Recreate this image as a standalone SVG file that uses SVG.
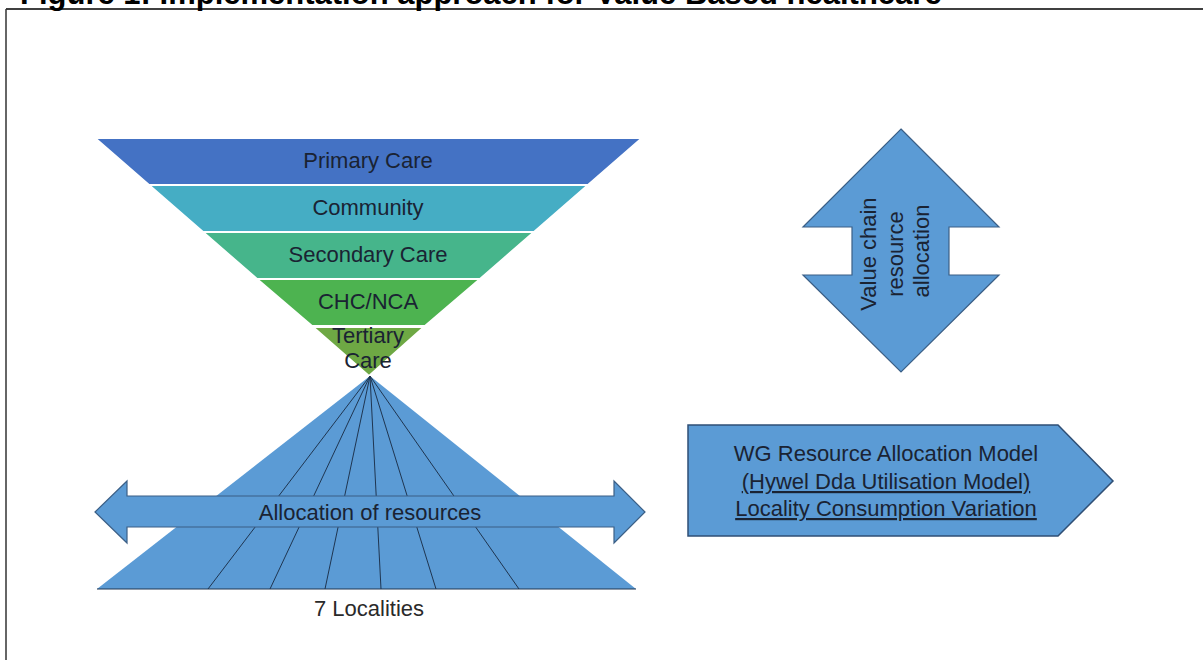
<svg xmlns="http://www.w3.org/2000/svg" width="1203" height="660" viewBox="0 0 1203 660">
  <style>
    text { font-family: "Liberation Sans", Arial, sans-serif; }
    .title { font-size: 31px; font-weight: bold; fill: #000; }
    .lbl { font-size: 22px; fill: #1a2333; text-anchor: middle; }
    .band { stroke: #ffffff; stroke-width: 2; }
    .blue { fill: #5b9bd5; }
    .outline { stroke: #3b5f86; stroke-width: 1.2; }
    .div { stroke: #1f3550; stroke-width: 1; fill: none; }
  </style>

  <rect width="1203" height="660" fill="#ffffff"/>

  <!-- heading and frame -->
  <text class="title" x="20" y="4">Figure 1: Implementation approach for Value Based healthcare</text>
  <line x1="6" y1="9" x2="1203" y2="9" stroke="#000" stroke-width="1.5"/>
  <line x1="6" y1="9" x2="6" y2="660" stroke="#333" stroke-width="1.5"/>

  <!-- care levels funnel -->
  <g id="funnel">
    <polygon class="band" fill="#4472c4" points="95,138 642,138 588,185 149,185"/>
    <polygon class="band" fill="#45adc4" points="149,185 588,185 534,232 203,232"/>
    <polygon class="band" fill="#46b58b" points="203,232 534,232 480,279 257,279"/>
    <polygon class="band" fill="#4db350" points="257,279 480,279 425,326 312,326"/>
    <polygon class="band" fill="#6ea844" points="313,327 424,327 369,376"/>
    <text class="lbl" x="368" y="168">Primary Care</text>
    <text class="lbl" x="368" y="215">Community</text>
    <text class="lbl" x="368" y="262">Secondary Care</text>
    <text class="lbl" x="368" y="309">CHC/NCA</text>
    <text class="lbl" x="368" y="343">Tertiary</text>
    <text class="lbl" x="368" y="368">Care</text>
  </g>

  <!-- localities pyramid -->
  <g id="localities">
    <polygon class="blue" points="370,376 636,589 97,589"/>
    <line class="div" x1="97" y1="589" x2="636" y2="589"/>
    <g class="div">
      <line x1="370" y1="376" x2="208" y2="589"/>
      <line x1="370" y1="376" x2="270" y2="589"/>
      <line x1="370" y1="376" x2="325" y2="589"/>
      <line x1="370" y1="376" x2="381" y2="589"/>
      <line x1="370" y1="376" x2="436" y2="589"/>
      <line x1="370" y1="376" x2="519" y2="589"/>
    </g>
    <text class="lbl" x="369" y="616" style="fill:#2a2a2a">7 Localities</text>
  </g>

  <!-- horizontal double arrow -->
  <g id="allocation">
    <polygon class="blue outline" points="95,512 127,481 127,496 614,496 614,481 645,512 614,543 614,527 127,527 127,543"/>
    <text class="lbl" x="370" y="520">Allocation of resources</text>
  </g>

  <!-- vertical double arrow -->
  <g id="value-chain">
    <polygon class="blue outline" points="901,129 999,227 949,227 949,275 999,275 901,372 803,275 852,275 852,227 803,227"/>
    <text class="lbl" transform="translate(895,251) rotate(-90)">
      <tspan x="0" y="-19">Value chain</tspan>
      <tspan x="0" y="7.5">resource</tspan>
      <tspan x="0" y="34">allocation</tspan>
    </text>
  </g>

  <!-- model pentagon -->
  <g id="wg-model">
    <polygon class="blue" stroke="#2f4f75" stroke-width="1.5" points="688,425 1058,425 1113,481 1058,536 688,536"/>
    <text class="lbl" x="886" y="461">WG Resource Allocation Model</text>
    <text class="lbl" x="886" y="489" text-decoration="underline">(Hywel Dda Utilisation Model)</text>
    <text class="lbl" x="886" y="516" text-decoration="underline">Locality Consumption Variation</text>
  </g>
</svg>
